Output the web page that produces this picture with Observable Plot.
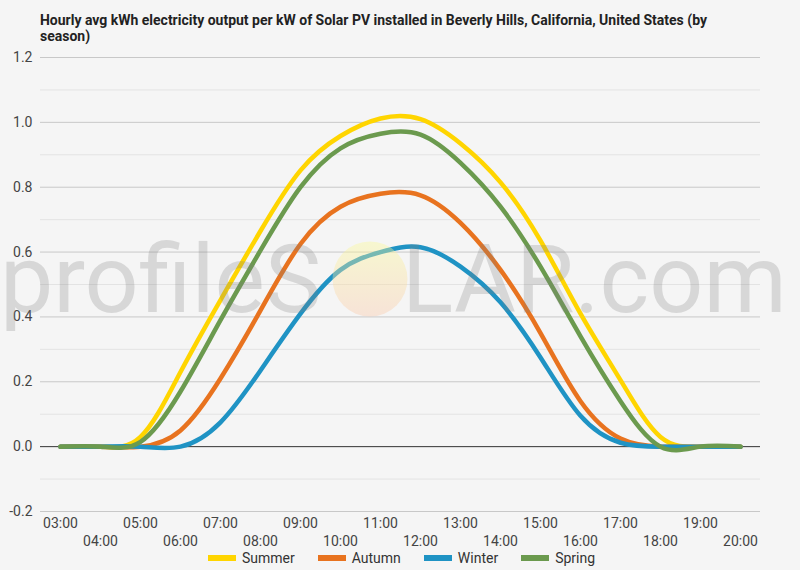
<!DOCTYPE html>
<html>
<head>
<meta charset="utf-8">
<script src="https://cdn.jsdelivr.net/npm/d3@7"></script>
<script src="https://cdn.jsdelivr.net/npm/@observablehq/plot@0.6"></script>
<style>
  html, body { margin: 0; padding: 0; background: #f5f5f5; }
  #wrap { position: relative; width: 800px; height: 570px; overflow: hidden; font-family: Roboto, sans-serif; }
  #title { position: absolute; left: 40px; top: 12px; font: bold 15px Roboto, sans-serif; line-height: 16px; color: #222; white-space: nowrap; transform-origin: 0 0; }
  #chart { position: absolute; left: 0; top: 0; }
  #overlay { position: absolute; left: 0; top: 0; pointer-events: none; }
  #legend { position: absolute; left: 208px; top: 550px; display: flex; align-items: center; height: 15px; font-size: 14px; color: #333; }
  .item { display: flex; align-items: center; margin-right: 23px; }
  .sw { width: 28px; height: 6px; margin-right: 6px; }
</style>
</head>
<body>
<div id="wrap">
  <div id="chart"></div>
  <svg id="overlay" width="800" height="570">
    <defs>
      <linearGradient id="sun" x1="0" y1="0" x2="0" y2="1">
        <stop offset="0" stop-color="rgb(250,250,150)"/>
        <stop offset="1" stop-color="rgb(250,200,170)"/>
      </linearGradient>
    </defs>
    <circle cx="370" cy="279" r="37.5" fill="url(#sun)" opacity="0.4"/>
    <text x="0" y="312" font-family="Roboto" font-size="95" fill="#808080" opacity="0.25">profileS</text>
    <text x="402" y="312" font-family="Roboto" font-size="95" fill="#808080" opacity="0.25">LAR.com</text>
  </svg>
  <div id="title"><span id="t1">Hourly avg kWh electricity output per kW of Solar PV installed in Beverly Hills, California, United States (by</span><br>season)</div>
  <div id="legend"></div>
</div>
<script>
const hours = ["03:00","04:00","05:00","06:00","07:00","08:00","09:00","10:00","11:00","12:00","13:00","14:00","15:00","16:00","17:00","18:00","19:00","20:00"];
const oddHours = ["03:00","05:00","07:00","09:00","11:00","13:00","15:00","17:00","19:00"];
const evenHours = ["04:00","06:00","08:00","10:00","12:00","14:00","16:00","18:00","20:00"];
const seasons = ["Summer","Autumn","Winter","Spring"];
const seasonColors = ["#ffd500","#e8731f","#1f93c4","#6b9a4e"];
const summer = [0, 0, 0.03, 0.23, 0.452, 0.665, 0.852, 0.958, 1.012, 1.01, 0.935, 0.815, 0.635, 0.41, 0.205, 0.03, 0, 0];
const autumn = [0, 0, 0, 0.05, 0.21, 0.42, 0.625, 0.74, 0.78, 0.775, 0.69, 0.545, 0.35, 0.14, 0.025, 0, 0, 0];
const winter = [0, 0, 0, 0, 0.075, 0.235, 0.41, 0.545, 0.6, 0.615, 0.555, 0.445, 0.275, 0.095, 0.012, 0, 0, 0];
const spring = [0, 0, 0.015, 0.17, 0.39, 0.605, 0.8, 0.92, 0.965, 0.962, 0.875, 0.74, 0.555, 0.34, 0.14, 0, 0, 0];
const yTicks = [-0.2, 0, 0.2, 0.4, 0.6, 0.8, 1.0, 1.2];
const yMinor = [-0.1, 0.1, 0.3, 0.5, 0.7, 0.9, 1.1];

const series = [summer, autumn, winter, spring];
const data = seasons.flatMap((s, i) => hours.map((h, j) => ({hour: h, value: series[i][j], season: s})));

const chart = Plot.plot({
  width: 800,
  height: 570,
  marginTop: 57,
  marginBottom: 59,
  marginLeft: 40,
  marginRight: 40,
  style: {background: "transparent", fontFamily: "Roboto, sans-serif", fontSize: "14px", color: "#444"},
  x: {type: "point", domain: hours, padding: 0.5},
  y: {domain: [-0.2, 1.2]},
  color: {domain: seasons, range: seasonColors},
  marks: [
    Plot.ruleY(yMinor, {stroke: "#e3e3e3", strokeWidth: 1}),
    Plot.ruleY(yTicks.filter(d => d !== 0), {stroke: "#c8c8c8", strokeWidth: 1}),
    Plot.ruleY([0], {stroke: "#333", strokeWidth: 1}),
    Plot.axisY({ticks: yTicks, tickSize: 0, tickPadding: 8, tickFormat: d => d.toFixed(1), label: null, fill: "#444"}),
    Plot.axisX({ticks: oddHours, tickSize: 0, tickPadding: 7, label: null, fill: "#444"}),
    Plot.axisX({ticks: evenHours, tickSize: 0, tickPadding: 25, label: null, fill: "#444"}),
    Plot.line(data, {x: "hour", y: "value", z: "season", stroke: "season", curve: "natural", strokeWidth: 4.5, strokeLinecap: "round"})
  ]
});
document.getElementById("chart").appendChild(chart);

// legend
const legend = document.getElementById("legend");
seasons.forEach((s, i) => {
  const it = document.createElement("div");
  it.className = "item";
  const sw = document.createElement("div");
  sw.className = "sw";
  sw.style.background = seasonColors[i];
  const tx = document.createElement("span");
  tx.textContent = s;
  it.appendChild(sw);
  it.appendChild(tx);
  legend.appendChild(it);
});

// condensed title to match reference width
const t1 = document.getElementById("t1");
const ctx = document.createElement("canvas").getContext("2d");
ctx.font = "bold 15px Roboto";
const w = ctx.measureText(t1.textContent).width;
document.getElementById("title").style.transform = `scaleX(${667 / w})`;
</script>
</body>
</html>
